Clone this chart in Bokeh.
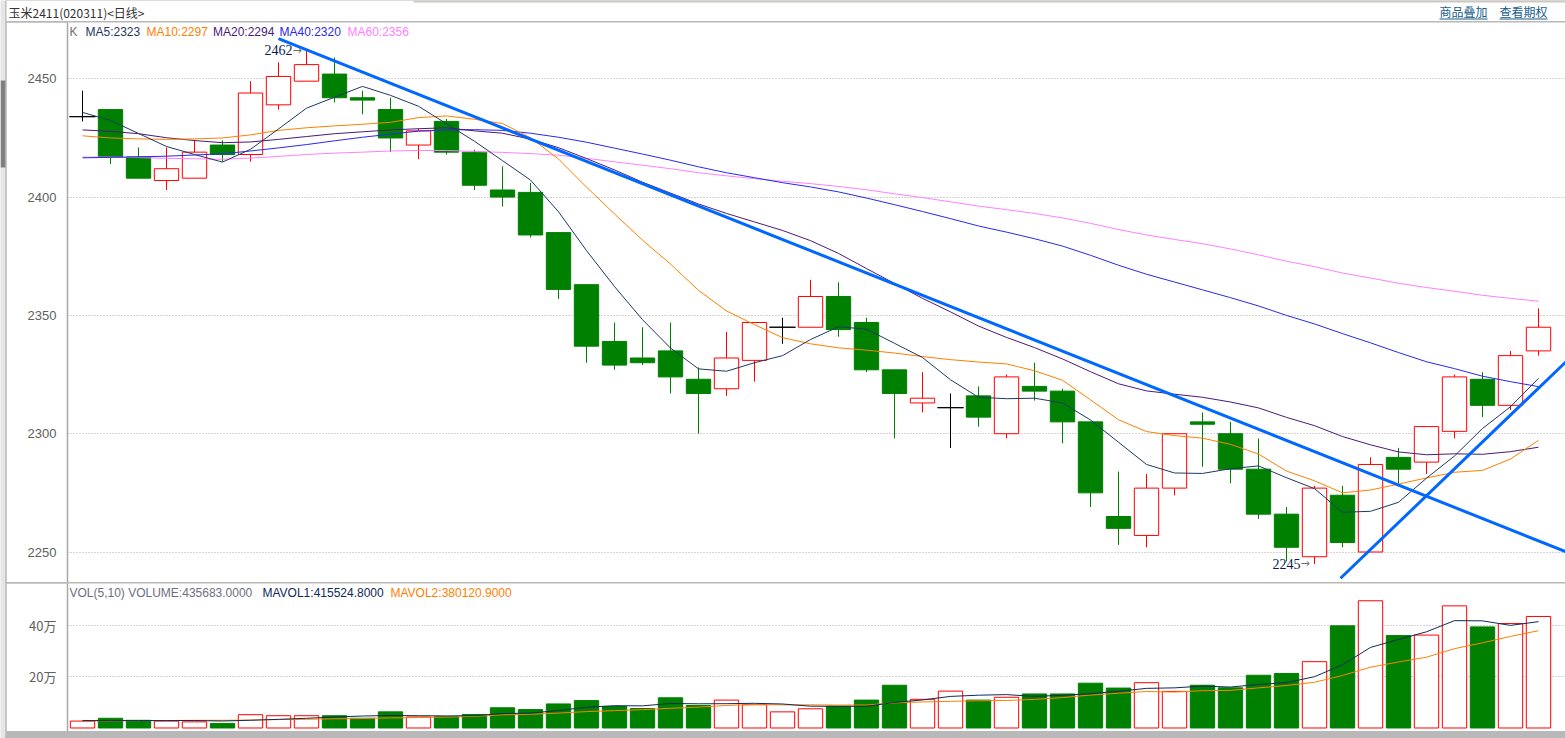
from bokeh.plotting import figure
from bokeh.models import Range1d, FixedTicker, ColumnDataSource
from bokeh.layouts import column, row
from bokeh.embed import file_html
from bokeh.resources import INLINE
from bokeh.core.properties import value

# ---------------- data ----------------
opens  = [2434, 2437, 2417, 2407, 2408, 2422, 2418, 2439, 2449, 2452, 2442, 2437, 2422, 2432, 2419, 2403, 2402, 2385,
          2363, 2339, 2332, 2335, 2323, 2319, 2331, 2345, 2345, 2358, 2347, 2327, 2313, 2311, 2316, 2300, 2320, 2318,
          2305, 2265, 2257, 2277, 2305, 2300, 2285, 2266, 2248, 2274, 2250, 2290, 2288, 2301, 2323, 2312, 2335]
highs  = [2445, 2437, 2421, 2421, 2424, 2424, 2449, 2457, 2462, 2459, 2445, 2442, 2429, 2433, 2420, 2413, 2406, 2385,
          2363, 2347, 2345, 2347, 2328, 2343, 2347, 2349, 2365, 2364, 2349, 2327, 2326, 2317, 2320, 2325, 2330, 2319,
          2305, 2284, 2283, 2300, 2309, 2305, 2298, 2269, 2278, 2278, 2290, 2294, 2303, 2325, 2326, 2335, 2353]
lows   = [2432, 2414, 2408, 2403, 2408, 2415, 2415, 2437, 2449, 2440, 2435, 2419, 2416, 2418, 2403, 2396, 2383, 2357,
          2330, 2327, 2329, 2317, 2300, 2316, 2322, 2338, 2345, 2341, 2326, 2298, 2309, 2294, 2303, 2298, 2314, 2296,
          2269, 2253, 2252, 2274, 2286, 2279, 2264, 2246, 2245, 2252, 2250, 2279, 2283, 2298, 2307, 2310, 2333]
closes = [2434, 2417, 2408, 2412, 2419, 2418, 2444, 2451, 2456, 2442, 2441, 2425, 2428, 2419, 2405, 2400, 2384, 2361,
          2337, 2329, 2330, 2324, 2317, 2332, 2347, 2345, 2358, 2344, 2327, 2317, 2315, 2311, 2307, 2324, 2318, 2305,
          2275, 2260, 2277, 2300, 2304, 2285, 2266, 2252, 2277, 2254, 2287, 2285, 2303, 2324, 2312, 2333, 2345]
volumes = [27000, 38000, 30000, 27000, 24000, 18000, 52000, 48000, 48000, 48000, 38000, 63000, 43000, 44000, 53000,
           79000, 72000, 94000, 107000, 84000, 76000, 118000, 88000, 109000, 91000, 63000, 75000, 85000, 109000,
           167000, 112000, 144000, 109000, 120000, 133000, 133000, 175000, 156000, 177000, 143000, 167000, 157000,
           206000, 213000, 259000, 399000, 497000, 361000, 363000, 477000, 395000, 408000, 435683]

ma5  = [2435.8, 2432.4, 2426.9, 2421.4, 2418.0, 2414.8, 2420.2, 2428.8, 2437.6, 2442.2, 2446.8, 2443.0, 2438.4, 2431.0,
        2423.6, 2415.4, 2407.2, 2393.8, 2377.4, 2362.2, 2348.2, 2336.2, 2327.4, 2326.4, 2330.0, 2333.0, 2339.8, 2345.2,
        2344.2, 2338.2, 2332.2, 2322.8, 2315.4, 2314.8, 2315.0, 2313.0, 2305.8, 2296.4, 2287.0, 2283.4, 2283.2, 2285.2,
        2286.4, 2281.4, 2276.8, 2266.8, 2267.2, 2271.0, 2281.2, 2290.6, 2302.2, 2311.4, 2323.4]
ma10 = [2425.9, 2425.0, 2424.6, 2424.4, 2424.6, 2425.0, 2426.3, 2428.2, 2429.3, 2430.1, 2430.8, 2431.6, 2433.6, 2434.3,
        2432.9, 2431.1, 2425.1, 2416.1, 2404.2, 2392.9, 2381.8, 2371.7, 2360.6, 2351.9, 2346.1, 2340.6, 2338.0, 2336.3,
        2335.3, 2334.1, 2332.6, 2331.3, 2330.3, 2329.5, 2326.6, 2322.6, 2314.3, 2305.9, 2300.9, 2299.2, 2298.1, 2295.5,
        2291.4, 2284.2, 2280.1, 2275.0, 2276.2, 2278.7, 2281.3, 2283.7, 2284.5, 2289.3, 2297.2]
ma20 = [2428.4, 2427.8, 2426.8, 2425.1, 2423.9, 2423.0, 2423.3, 2424.4, 2425.6, 2426.8, 2427.6, 2428.4, 2428.9, 2429.3,
        2428.0, 2427.0, 2424.5, 2420.9, 2416.3, 2411.5, 2406.3, 2401.7, 2397.1, 2393.1, 2389.5, 2385.9, 2381.6, 2376.2,
        2369.8, 2363.5, 2357.2, 2351.5, 2345.5, 2340.7, 2336.4, 2331.6, 2326.2, 2321.1, 2318.1, 2316.7, 2315.4, 2313.4,
        2310.9, 2306.9, 2303.4, 2298.8, 2295.3, 2292.3, 2291.1, 2291.5, 2291.3, 2292.4, 2294.3]
ma40 = [2416.6, 2416.8, 2417.0, 2417.3, 2417.8, 2418.3, 2419.5, 2420.8, 2422.2, 2423.8, 2425.3, 2426.6, 2427.9, 2428.4,
        2428.5, 2428.2, 2427.0, 2425.3, 2423.2, 2420.7, 2418.2, 2415.6, 2412.8, 2410.3, 2408.2, 2406.1, 2404.3, 2402.2,
        2399.6, 2396.8, 2393.9, 2390.9, 2387.8, 2385.2, 2382.4, 2379.3, 2375.4, 2371.2, 2367.4, 2364.1, 2360.8, 2357.5,
        2354.0, 2350.0, 2346.4, 2342.3, 2338.4, 2334.3, 2330.4, 2327.5, 2324.3, 2322.0, 2319.9]
ma60 = [2416.9, 2416.9, 2416.7, 2416.4, 2416.2, 2416.0, 2416.5, 2417.2, 2418.0, 2418.6, 2419.0, 2419.5, 2419.7, 2419.7,
        2419.3, 2418.9, 2418.4, 2417.7, 2416.4, 2414.9, 2413.5, 2412.0, 2410.3, 2409.0, 2407.8, 2406.7, 2405.7, 2404.5,
        2403.1, 2401.4, 2399.8, 2398.0, 2396.2, 2394.7, 2393.1, 2391.2, 2388.9, 2386.3, 2384.0, 2382.1, 2380.3, 2378.1,
        2375.6, 2372.9, 2370.6, 2367.9, 2365.8, 2363.6, 2361.8, 2360.2, 2358.5, 2357.2, 2356.0]
mavol1 = [29000, 29000, 29000, 29000, 29200, 27400, 30200, 33800, 38000, 42800, 46800, 49000, 48000, 47200, 48200,
          56400, 58200, 68400, 81000, 87200, 86600, 95800, 94600, 95000, 96400, 93800, 85200, 84600, 84600, 99800,
          109600, 123400, 128200, 130400, 123600, 127800, 134000, 143400, 154800, 156800, 163600, 160000, 170000,
          177200, 200400, 246800, 314800, 345800, 375800, 419400, 418600, 400800, 415524.8]
mavol2 = [28000, 28000, 29000, 29000, 30000, 30000, 31000, 33000, 34000, 36000, 37100, 39600, 40900, 42600, 45500,
          51600, 53600, 58200, 64100, 67700, 71500, 77000, 81500, 88000, 91800, 90200, 90500, 89600, 89800, 98100,
          101700, 104300, 106400, 107500, 111700, 118700, 128700, 135800, 142600, 140200, 145700, 147000, 156700,
          166000, 178600, 205200, 237400, 257900, 276500, 309900, 332700, 357800, 380120.9]

price_ticks = [2250, 2300, 2350, 2400, 2450]
vol_ticks = [200000, 400000]
vol_tick_labels = {200000: "20万", 400000: "40万"}

# hand-drawn trend lines (index, price)
trend_down_x = [7.0, 53.0]
trend_down_y = [2467.0, 2250.0]
trend_up_x = [44.93, 53.0]
trend_up_y = [2238.9, 2330.6]

title_text = "玉米2411(020311)<日线>"
link_texts = ["商品叠加", "查看期权"]

# ---------------- styling ----------------
RED = "#FF0000"
GREEN = "#008000"
C_MA5, C_MA10, C_MA20, C_MA40, C_MA60 = "#1F3864", "#FF8000", "#4A1A78", "#2828F0", "#FF80FF"
C_MAV1, C_MAV2 = "#0F2A5A", "#FF8000"
BODY_W = 0.87
FONT = "Liberation Sans"

n = len(closes)
idx = list(range(n))
up = [c > o for o, c in zip(opens, closes)]
dn = [c < o for o, c in zip(opens, closes)]
fl = [c == o for o, c in zip(opens, closes)]

def pick(arr, mask):
    return [a for a, m in zip(arr, mask) if m]

x_range = Range1d(-15 / 28, 1483 / 28)
P_TOP, P_BOT = 2473.80, 2237.11
V_TOP, V_BOT = 564453, -13672


def pane(h, yr):
    f = figure(width=1559, height=h, x_range=x_range, y_range=yr, toolbar_location=None,
               output_backend="svg", title=None, x_axis_location=None,
               min_border_left=61, min_border_right=0, min_border_top=0, min_border_bottom=0,
               background_fill_color="white", border_fill_color="white", outline_line_color=None)
    f.xgrid.visible = False
    ax = f.yaxis[0]
    ax.axis_line_color = "#A8A8A8"
    ax.axis_line_width = 1.5
    ax.major_tick_line_color = None
    ax.minor_tick_line_color = None
    ax.major_label_standoff = 5
    ax.major_label_text_color = "#606060"
    ax.major_label_text_font_size = "13px"
    f.ygrid.grid_line_color = "#A8A8A8"
    f.ygrid.grid_line_dash = "1 2"
    f.ygrid.grid_line_width = 1
    return f


def strip(h, left):
    f = figure(width=1559, height=h, x_range=Range1d(left, 1565), y_range=Range1d(h, 0),
               toolbar_location=None, output_backend="svg", title=None,
               x_axis_location=None, y_axis_location=None,
               min_border_left=0 if left == 6 else 61, min_border_right=0, min_border_top=0, min_border_bottom=0,
               outline_line_color=None, background_fill_color="white", border_fill_color="white")
    f.grid.visible = False
    return f

# ---------------- header (pixel coordinates) ----------------
hdr = strip(21, 6)
hdr.quad(left=[413], right=[1565], top=[0], bottom=[2], fill_color="#CCC8C4", line_color=None)
hdr.text(x=[8], y=[11.5], text=[title_text], text_baseline="middle", text_align="left",
         text_font=value("Noto Sans CJK SC"), text_font_size="12px", text_color="#333333")
hdr.text(x=[1439, 1499], y=[11, 11], text=link_texts, text_baseline="middle", text_align="left",
         text_font=value("Noto Sans CJK SC"), text_font_size="12px", text_color="#1A5E8C")
hdr.segment(x0=[1439, 1499], y0=[18.5, 18.5], x1=[1487, 1547], y1=[18.5, 18.5], line_color="#1A5E8C", line_width=1)

# ---------------- price pane ----------------
p1 = pane(560, Range1d(P_BOT, P_TOP))
p1.yaxis[0].ticker = FixedTicker(ticks=price_ticks)
p1.ygrid.ticker = FixedTicker(ticks=price_ticks)
p1.yaxis[0].major_label_text_font = FONT

src_dn = ColumnDataSource(dict(x=pick(idx, dn), o=pick(opens, dn), c=pick(closes, dn),
                               h=pick(highs, dn), l=pick(lows, dn)))
src_up = ColumnDataSource(dict(x=pick(idx, up), o=pick(opens, up), c=pick(closes, up),
                               h=pick(highs, up), l=pick(lows, up)))
src_fl = ColumnDataSource(dict(x=pick(idx, fl), c=pick(closes, fl), h=pick(highs, fl), l=pick(lows, fl)))

p1.segment(x0="x", y0="h", x1="x", y1="l", source=src_dn, line_color=GREEN, line_width=1)
p1.vbar(x="x", width=BODY_W, top="o", bottom="c", source=src_dn, fill_color=GREEN, line_color=GREEN, line_width=1)
p1.segment(x0="x", y0="h", x1="x", y1="c", source=src_up, line_color=RED, line_width=1)
p1.segment(x0="x", y0="o", x1="x", y1="l", source=src_up, line_color=RED, line_width=1)
p1.vbar(x="x", width=BODY_W, top="c", bottom="o", source=src_up, fill_color="white", line_color=RED, line_width=1)
p1.segment(x0="x", y0="h", x1="x", y1="l", source=src_fl, line_color="black", line_width=1)
p1.rect(x="x", y="c", width=0.93, height=0.01, source=src_fl, fill_color="black", line_color="black", line_width=1)

for arr, col in [(ma60, C_MA60), (ma40, C_MA40), (ma20, C_MA20), (ma10, C_MA10), (ma5, C_MA5)]:
    p1.line(idx, arr, line_color=col, line_width=1)

p1.line(trend_down_x, trend_down_y, line_color="#0068FF", line_width=3)
p1.line(trend_up_x, trend_up_y, line_color="#0068FF", line_width=3)

# extreme labels
hi_i = highs.index(max(highs))
lo_i = lows.index(min(lows))
for i, v in [(hi_i, highs[hi_i]), (lo_i, lows[lo_i])]:
    p1.text(x=[i], y=[v], text=[f"{v}"], x_offset=-14, text_align="right", text_baseline="middle",
            text_font=value("Liberation Serif"), text_font_size="14px", text_color="#0A1E4E")
    p1.text(x=[i], y=[v], text=["→"], x_offset=-14, text_align="left", text_baseline="middle",
            text_font=value("DejaVu Sans"), text_font_size="11px", text_color="#707070")

legend1 = [("K", 69, "#707070"), (f"MA5:{ma5[-1]:.0f}", 85, C_MA5), (f"MA10:{ma10[-1]:.0f}", 146, C_MA10),
           (f"MA20:{ma20[-1]:.0f}", 212.5, C_MA20), (f"MA40:{ma40[-1]:.0f}", 279, C_MA40),
           (f"MA60:{ma60[-1]:.0f}", 347, C_MA60)]
for t, px, col in legend1:
    p1.text(x=[x_range.start], y=[P_TOP], text=[t], x_offset=px - 67, y_offset=9.5, text_align="left",
            text_baseline="middle", text_font=value(FONT), text_font_size="12px", text_color=col)

# ---------------- volume pane ----------------
p2 = pane(148, Range1d(V_BOT, V_TOP))
p2.yaxis[0].ticker = FixedTicker(ticks=vol_ticks)
p2.ygrid.ticker = FixedTicker(ticks=vol_ticks)
p2.yaxis[0].major_label_overrides = vol_tick_labels
p2.yaxis[0].major_label_text_font = "Noto Sans CJK SC"

vup = [c >= o for o, c in zip(opens, closes)]
vdn = [not u for u in vup]
p2.vbar(x=pick(idx, vdn), width=BODY_W, top=pick(volumes, vdn), bottom=0, fill_color=GREEN, line_color=GREEN)
p2.vbar(x=pick(idx, vup), width=BODY_W, top=pick(volumes, vup), bottom=0, fill_color="white", line_color=RED)
p2.line(idx, mavol2, line_color=C_MAV2, line_width=1)
p2.line(idx, mavol1, line_color=C_MAV1, line_width=1)

legend2 = [(f"VOL(5,10) VOLUME:{volumes[-1]:.4f}", 69, "#6E6E80"), (f"MAVOL1:{mavol1[-1]:.4f}", 262, C_MAV1),
           (f"MAVOL2:{mavol2[-1]:.4f}", 390, C_MAV2)]
for t, px, col in legend2:
    p2.text(x=[x_range.start], y=[V_TOP], text=[t], x_offset=px - 67, y_offset=9, text_align="left",
            text_baseline="middle", text_font=value(FONT), text_font_size="12px", text_color=col)

# ---------------- bottom strip & sidebar ----------------
bot = strip(6, 67)

side = figure(width=6, height=738, x_range=Range1d(0, 6), y_range=Range1d(738, 0),
              toolbar_location=None, output_backend="svg", title=None,
              x_axis_location=None, y_axis_location=None, min_border=0,
              outline_line_color=None, background_fill_color="#E6E6E6", border_fill_color="#E6E6E6")
side.grid.visible = False
side.quad(left=[0], right=[5], top=[80], bottom=[167], fill_color="#808080", line_color=None)
side.segment(x0=[5.5], y0=[0], x1=[5.5], y1=[738], line_color="#A0A0A0", line_width=1)

GRAY = {"background-color": "#B8B8B8"}
body = column(p1, p2, bot, spacing=1, styles=GRAY)
right = column(hdr, body, spacing=1, styles=GRAY)
layout = row(side, right, spacing=0)

open("out.html", "w").write(file_html(layout, INLINE))
